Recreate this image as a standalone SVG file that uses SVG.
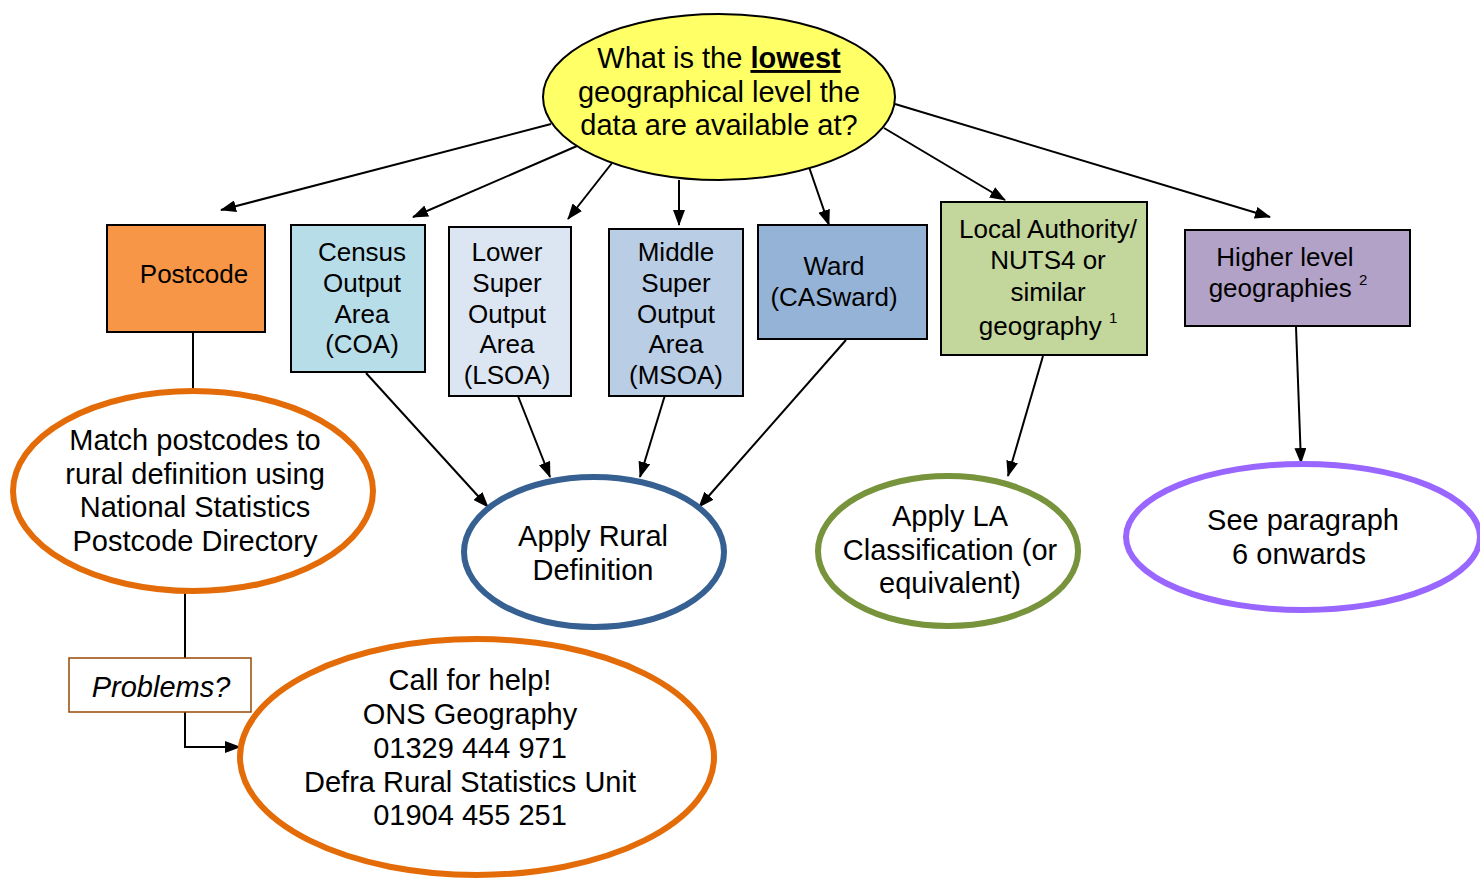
<svg xmlns="http://www.w3.org/2000/svg" width="1480" height="878" viewBox="0 0 1480 878">
<style>
text{font-family:"Liberation Sans",Arial,sans-serif;font-size:26px;fill:#000;text-anchor:middle}
.big{font-size:29px}
.box{stroke:#000;stroke-width:2}
.con{stroke:#000;stroke-width:2;fill:none}
.ell{fill:#fff;stroke-width:6}
.sup{font-size:15px}
</style>
<defs>
<marker id="ah" viewBox="0 0 16 12" refX="15" refY="6" markerWidth="16" markerHeight="12" markerUnits="userSpaceOnUse" orient="auto">
<path d="M0,0 L16,6 L0,12 Z" fill="#000"/>
</marker>
</defs>
<rect width="1480" height="878" fill="#fff"/>
<g id="connectors">
<line class="con" x1="551" y1="124" x2="221" y2="210" marker-end="url(#ah)"/>
<line class="con" x1="577" y1="146" x2="413" y2="217" marker-end="url(#ah)"/>
<line class="con" x1="612" y1="163" x2="568" y2="219" marker-end="url(#ah)"/>
<line class="con" x1="679" y1="180" x2="679" y2="225" marker-end="url(#ah)"/>
<line class="con" x1="809" y1="167" x2="829" y2="225" marker-end="url(#ah)"/>
<line class="con" x1="884" y1="128" x2="1005" y2="200" marker-end="url(#ah)"/>
<line class="con" x1="895" y1="104" x2="1270" y2="217" marker-end="url(#ah)"/>
<line class="con" x1="193" y1="332" x2="193" y2="391"/>
<line class="con" x1="366" y1="373" x2="488" y2="507" marker-end="url(#ah)"/>
<line class="con" x1="518" y1="396" x2="550" y2="477" marker-end="url(#ah)"/>
<line class="con" x1="665" y1="395" x2="640" y2="477" marker-end="url(#ah)"/>
<line class="con" x1="846" y1="340" x2="699" y2="507" marker-end="url(#ah)"/>
<line class="con" x1="1043" y1="356" x2="1008" y2="476" marker-end="url(#ah)"/>
<line class="con" x1="1296" y1="327" x2="1301" y2="463" marker-end="url(#ah)"/>
<line class="con" x1="185" y1="593" x2="185" y2="658"/>
<polyline class="con" points="185,712 185,747 240,747" marker-end="url(#ah)"/>
</g>
<g id="question">
<ellipse cx="719" cy="97" rx="176" ry="83" fill="#FFFF66" stroke="#000" stroke-width="2"/>
<text class="big" x="719" y="68">What is the <tspan font-weight="bold" text-decoration="underline">lowest</tspan></text>
<text class="big" x="719" y="102">geographical level the</text>
<text class="big" x="719" y="135">data are available at?</text>
</g>
<g id="postcode">
<rect class="box" x="107" y="225" width="158" height="107" fill="#F79646"/>
<text x="194" y="283">Postcode</text>
</g>
<g id="coa">
<rect class="box" x="291" y="225" width="134" height="147" fill="#B7DDE8"/>
<text x="362" y="261">Census</text>
<text x="362" y="292">Output</text>
<text x="362" y="323">Area</text>
<text x="362" y="353">(COA)</text>
</g>
<g id="lsoa">
<rect class="box" x="449" y="227" width="122" height="169" fill="#DCE6F2"/>
<text x="507" y="261">Lower</text>
<text x="507" y="292">Super</text>
<text x="507" y="323">Output</text>
<text x="507" y="353">Area</text>
<text x="507" y="384">(LSOA)</text>
</g>
<g id="msoa">
<rect class="box" x="609" y="229" width="134" height="167" fill="#B9CDE5"/>
<text x="676" y="261">Middle</text>
<text x="676" y="292">Super</text>
<text x="676" y="323">Output</text>
<text x="676" y="353">Area</text>
<text x="676" y="384">(MSOA)</text>
</g>
<g id="ward">
<rect class="box" x="758" y="225" width="169" height="114" fill="#95B3D7"/>
<text x="834" y="275">Ward</text>
<text x="834" y="306">(CASward)</text>
</g>
<g id="la">
<rect class="box" x="941" y="202" width="206" height="153" fill="#C3D69B"/>
<text x="1048" y="238">Local Authority/</text>
<text x="1048" y="269">NUTS4 or</text>
<text x="1048" y="301">similar</text>
<text x="1048" y="335">geography <tspan class="sup" dy="-12">1</tspan></text>
</g>
<g id="higher">
<rect class="box" x="1185" y="230" width="225" height="96" fill="#B2A2C7"/>
<text x="1285" y="266">Higher level</text>
<text x="1288" y="297">geographies <tspan class="sup" dy="-12">2</tspan></text>
</g>
<g id="match">
<ellipse class="ell" cx="193" cy="491" rx="180" ry="100" stroke="#E36C09"/>
<text class="big" x="195" y="450">Match postcodes to</text>
<text class="big" x="195" y="484">rural definition using</text>
<text class="big" x="195" y="517">National Statistics</text>
<text class="big" x="195" y="551">Postcode Directory</text>
</g>
<g id="rural">
<ellipse class="ell" cx="594" cy="552" rx="130" ry="75" stroke="#366092"/>
<text class="big" x="593" y="546">Apply Rural</text>
<text class="big" x="593" y="580">Definition</text>
</g>
<g id="applyla">
<ellipse class="ell" cx="948" cy="551" rx="130" ry="75" stroke="#77933C"/>
<text class="big" x="950" y="526">Apply LA</text>
<text class="big" x="950" y="560">Classification (or</text>
<text class="big" x="950" y="593">equivalent)</text>
</g>
<g id="paragraph">
<ellipse class="ell" cx="1303" cy="537" rx="177" ry="73" stroke="#9966FF"/>
<text class="big" x="1303" y="530">See paragraph</text>
<text class="big" x="1299" y="564">6 onwards</text>
</g>
<g id="problems">
<rect x="69" y="658" width="182" height="54" fill="#fff" stroke="#984806" stroke-width="1.5"/>
<text class="big" x="161" y="697" font-style="italic">Problems?</text>
</g>
<g id="help">
<ellipse class="ell" cx="477" cy="757" rx="237" ry="118" stroke="#E36C09"/>
<text class="big" x="470" y="690">Call for help!</text>
<text class="big" x="470" y="724">ONS Geography</text>
<text class="big" x="470" y="758">01329 444 971</text>
<text class="big" x="470" y="792">Defra Rural Statistics Unit</text>
<text class="big" x="470" y="825">01904 455 251</text>
</g>
</svg>
